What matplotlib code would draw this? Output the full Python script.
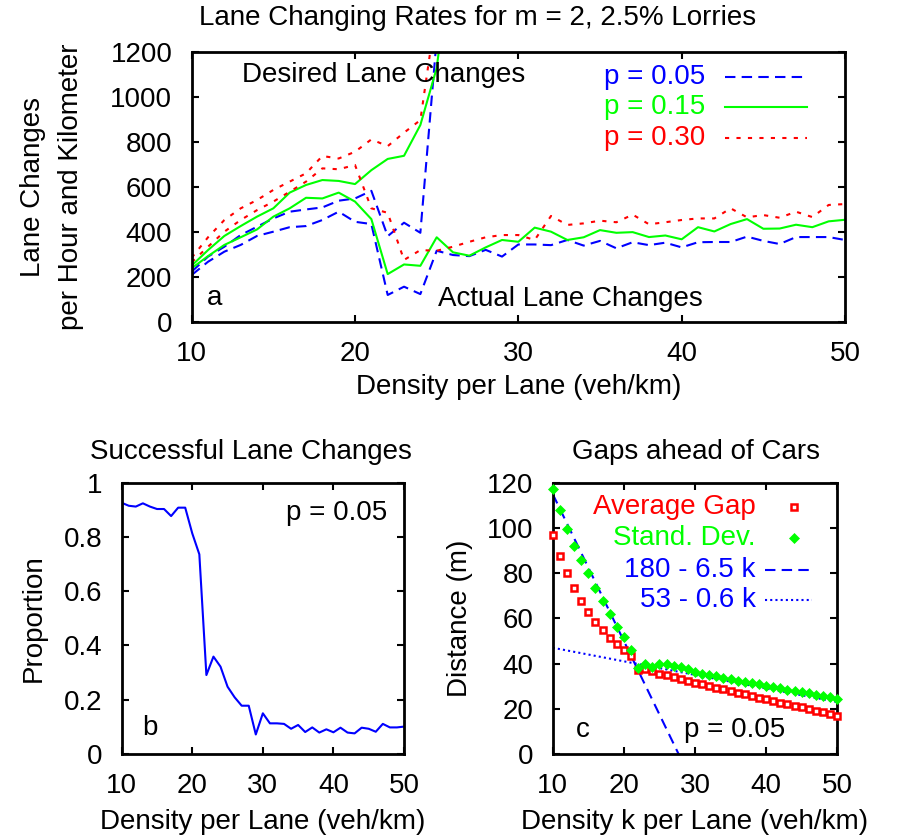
import numpy as np
import matplotlib
matplotlib.use("Agg")
import matplotlib.pyplot as plt

plt.rcParams["font.family"] = ["Liberation Sans", "DejaVu Sans"]
plt.rcParams["font.size"] = 20

BLUE, GREEN, RED = "#0000ff", "#00ff00", "#ff0000"

# ── DATA ──────────────────────────────────────────────────────────────────────

density = list(range(10, 51))          # veh/km per lane
density_desired = list(range(10, 27))  # desired curves leave the plot at ~25

# panel a: desired lane changes (per hour and km)
desired_005 = [223, 290, 334, 386, 423, 460, 490, 500, 509, 539, 549, 583,
               381, 441, 396, 1260, 2000]
desired_015 = [250, 319, 382, 426, 468, 505, 575, 609, 631, 627, 613, 675,
               725, 739, 876, 1130, 1700]
desired_030 = [285, 376, 453, 505, 542, 587, 624, 661, 738, 727, 757, 812,
               782, 842, 898, 1400, 2000]

# panel a: actual lane changes
actual_005 = [208, 267, 312, 342, 382, 401, 421, 426, 453, 490, 445, 435,
              119, 156, 123, 316, 297, 292, 320, 290, 344, 344, 341, 364,
              339, 360, 327, 354, 341, 352, 331, 354, 355, 355, 379, 360,
              346, 377, 377, 377, 364]
actual_015 = [238, 292, 342, 376, 411, 468, 505, 552, 549, 575, 535, 457,
              212, 255, 249, 376, 309, 294, 331, 364, 356, 419, 401, 364,
              376, 408, 396, 399, 377, 384, 367, 421, 402, 435, 457, 414,
              415, 432, 421, 447, 454]
actual_030 = [265, 334, 401, 453, 497, 535, 579, 624, 683, 679, 698, 505,
              485, 275, 319, 316, 334, 356, 376, 386, 386, 364, 471, 431,
              438, 450, 443, 477, 434, 443, 453, 460, 460, 505, 465, 475,
              463, 490, 466, 520, 524]

# panel b: proportion of successful lane changes, p = 0.05
success = [0.926, 0.915, 0.912, 0.924, 0.912, 0.903, 0.903, 0.877, 0.908,
           0.908, 0.813, 0.736, 0.291, 0.359, 0.322, 0.248, 0.209, 0.178,
           0.178, 0.072, 0.150, 0.113, 0.113, 0.111, 0.093, 0.107, 0.081,
           0.098, 0.079, 0.091, 0.080, 0.097, 0.079, 0.076, 0.097, 0.093,
           0.082, 0.111, 0.098, 0.098, 0.101]

# panel c: gaps ahead of cars (m)
avg_gap = [97.0, 87.6, 80.0, 73.3, 67.7, 63.0, 58.5, 54.8, 51.2, 48.5, 46.0,
           43.5, 37.0, 37.5, 36.5, 35.5, 34.8, 34.0, 33.2, 32.4, 31.6, 30.9,
           30.1, 29.3, 28.6, 27.8, 27.1, 26.4, 25.6, 24.9, 24.2, 23.4, 22.7,
           22.0, 21.3, 20.6, 19.8, 19.1, 18.4, 17.8, 17.0]
std_gap = [117.0, 108.0, 99.5, 92.0, 86.0, 80.0, 73.6, 67.7, 61.8, 56.0, 51.6,
           46.0, 38.0, 39.8, 38.5, 39.7, 40.0, 39.0, 38.4, 37.6, 36.2, 35.6,
           35.0, 34.4, 33.7, 33.0, 32.5, 32.0, 31.3, 30.8, 30.2, 29.6, 29.1,
           28.5, 28.0, 27.4, 26.8, 26.3, 25.8, 25.2, 24.5]

# fitted lines (end points)
fit_k = [10, 50]
fit_free = [115, -145]     # 180 - 6.5 k
fit_cong = [47, 23]        # 53 - 0.6 k

# ── STYLE HELPERS ─────────────────────────────────────────────────────────────

DASH = (0, (5, 3))
DOT = (0, (2, 3.5))
FINEDOT = (0, (1, 1.5))
LW = 1.5
SQ = dict(marker="s", ms=4.8, mfc="white", mec=RED, mew=1.8)
DI = dict(marker="D", ms=5.0, mfc=GREEN, mec=GREEN, mew=0.5)


def style_axes(ax):
    for sp in ax.spines.values():
        sp.set_linewidth(2.0)
    ax.tick_params(direction="in", length=5, width=1.5, pad=14,
                   top=True, right=True, labelsize=20)


fig = plt.figure(figsize=(8.98, 8.39), dpi=100)
W, H = 898, 839


def px_axes(l, t, r, b):
    return fig.add_axes([l / W, 1 - b / H, (r - l) / W, (b - t) / H])


# ── PANEL a ───────────────────────────────────────────────────────────────────
ax = px_axes(191.7, 52.3, 845, 321.7)
ax.plot(density_desired, desired_005, color=BLUE, lw=LW, ls=DASH)
ax.plot(density, actual_005, color=BLUE, lw=LW, ls=DASH)
ax.plot(density_desired, desired_015, color=GREEN, lw=LW)
ax.plot(density, actual_015, color=GREEN, lw=LW)
ax.plot(density_desired, desired_030, color=RED, lw=LW, ls=DOT)
ax.plot(density, actual_030, color=RED, lw=LW, ls=DOT)
ax.set_xlim(10, 50)
ax.set_ylim(0, 1200)
ax.set_xticks(range(10, 51, 10))
ax.set_yticks(range(0, 1201, 200))
style_axes(ax)
ax.set_xlabel("Density per Lane (veh/km)", labelpad=5)
ax.set_ylabel("Lane Changes\nper Hour and Kilometer", labelpad=19,
              linespacing=1.6)
ax.text(0.0765, 0.916, "Desired Lane Changes", transform=ax.transAxes,
        ha="left", va="center")
ax.text(0.377, 0.084, "Actual Lane Changes", transform=ax.transAxes,
        ha="left", va="center")
ax.text(0.035, 0.088, "a", transform=ax.transAxes, ha="center", va="center")
for yy, lab, col, ls in [(0.909, "p = 0.05", BLUE, DASH),
                         (0.797, "p = 0.15", GREEN, "-"),
                         (0.682, "p = 0.30", RED, DOT)]:
    ax.text(0.786, yy, lab, color=col, transform=ax.transAxes,
            ha="right", va="center")
    ax.plot([0.816, 0.942], [yy, yy], color=col, lw=LW, ls=ls,
            transform=ax.transAxes)
fig.text(478 / W, 1 - 18 / H, "Lane Changing Rates for m = 2, 2.5% Lorries",
         ha="center", va="center")

# ── PANEL b ───────────────────────────────────────────────────────────────────
ax = px_axes(121.7, 482.7, 404, 754)
ax.plot(density, success, color=BLUE, lw=LW)
ax.set_xlim(10, 50)
ax.set_ylim(0, 1)
ax.set_xticks(range(10, 51, 10))
ax.set_yticks([0, 0.2, 0.4, 0.6, 0.8, 1])
ax.set_yticklabels(["0", "0.2", "0.4", "0.6", "0.8", "1"])
style_axes(ax)
ax.set_xlabel("Density per Lane (veh/km)", labelpad=7)
ax.set_ylabel("Proportion", labelpad=12)
ax.text(0.94, 0.888, "p = 0.05", transform=ax.transAxes, ha="right",
        va="center")
ax.text(0.1, 0.096, "b", transform=ax.transAxes, ha="center", va="center")
fig.text(251 / W, 1 - 452 / H, "Successful Lane Changes", ha="center",
         va="center")

# ── PANEL c ───────────────────────────────────────────────────────────────────
ax = px_axes(552.7, 482.7, 837.3, 754)
ax.plot(fit_k, fit_free, color=BLUE, lw=LW, ls=DASH)
ax.plot(fit_k, fit_cong, color=BLUE, lw=LW, ls=FINEDOT)
ax.plot(density, avg_gap, ls="none", clip_on=False, zorder=3, **SQ)
ax.plot(density, std_gap, ls="none", clip_on=False, zorder=4, **DI)
ax.set_xlim(10, 50)
ax.set_ylim(0, 120)
ax.set_xticks(range(10, 51, 10))
ax.set_yticks(range(0, 121, 20))
style_axes(ax)
ax.set_xlabel("Density k per Lane (veh/km)", labelpad=7)
ax.set_ylabel("Distance (m)", labelpad=10)
ax.text(0.1075, 0.088, "c", transform=ax.transAxes, ha="center", va="center")
ax.text(0.64, 0.088, "p = 0.05", transform=ax.transAxes, ha="center",
        va="center")
rows = [(0.9115, "Average Gap", RED), (0.796, "Stand. Dev.", GREEN),
        (0.678, "180 - 6.5 k", BLUE), (0.5676, "53 - 0.6 k", BLUE)]
for yy, lab, col in rows:
    ax.text(0.714, yy, lab, color=col, transform=ax.transAxes, ha="right",
            va="center")
ax.plot([0.848], [rows[0][0]], transform=ax.transAxes, **SQ)
ax.plot([0.848], [rows[1][0]], transform=ax.transAxes, **DI)
ax.plot([0.745, 0.91], [rows[2][0]] * 2, color=BLUE, lw=LW, ls=DASH,
        transform=ax.transAxes)
ax.plot([0.745, 0.91], [rows[3][0]] * 2, color=BLUE, lw=LW, ls=FINEDOT,
        transform=ax.transAxes)
fig.text(696 / W, 1 - 452 / H, "Gaps ahead of Cars", ha="center",
         va="center")

fig.savefig("out.png", dpi=100)
